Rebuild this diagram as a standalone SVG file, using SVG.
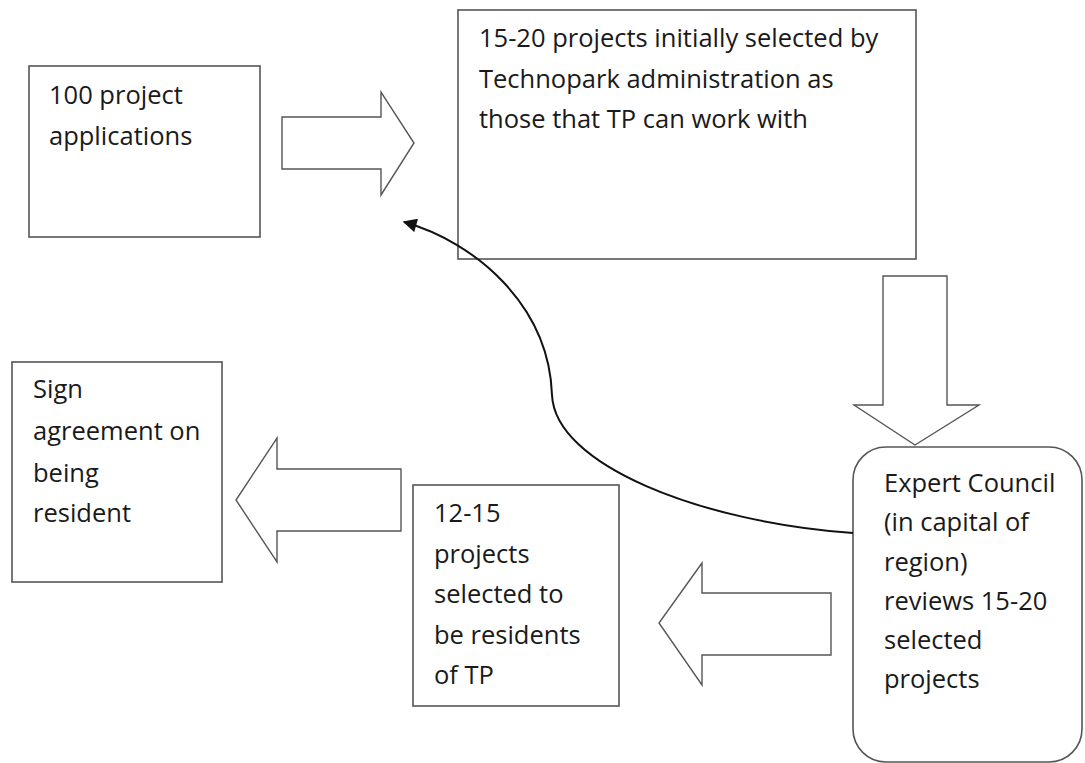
<svg xmlns="http://www.w3.org/2000/svg" width="1085" height="763" viewBox="0 0 1085 763">
<defs>
<style>
.box{fill:#fff;stroke:#555;stroke-width:1.6}
.arr{fill:#fff;stroke:#555;stroke-width:1.4;stroke-linejoin:miter}
.t{font-family:"Open Sans","Liberation Sans",sans-serif;font-size:25.5px;fill:#1a1a1a}
.conn{fill:none;stroke:#111;stroke-width:2}
</style>
<marker id="ah" viewBox="0 0 10 10" refX="9" refY="5" markerWidth="8" markerHeight="7" orient="auto" markerUnits="strokeWidth">
<path d="M0,0 L10,5 L0,10 z" fill="#111"/>
</marker>
</defs>
<rect width="1085" height="763" fill="#fff"/>
<g id="node-applications">
<rect class="box" x="29" y="66" width="231" height="171"/>
<text class="t" x="49" y="104">100 project</text>
<text class="t" x="49" y="145">applications</text>
</g>
<g id="node-initial">
<rect class="box" x="458" y="10" width="458" height="249"/>
<text class="t" x="479" y="47">15-20 projects initially selected by</text>
<text class="t" x="479" y="88">Technopark administration as</text>
<text class="t" x="479" y="128">those that TP can work with</text>
</g>
<g id="node-expert">
<rect class="box" x="853" y="447" width="229" height="315" rx="33" ry="33"/>
<text class="t" x="884" y="492">Expert Council</text>
<text class="t" x="884" y="531">(in capital of</text>
<text class="t" x="884" y="571">region)</text>
<text class="t" x="884" y="610">reviews 15-20</text>
<text class="t" x="884" y="649">selected</text>
<text class="t" x="884" y="688">projects</text>
</g>
<g id="node-residents">
<rect class="box" x="413" y="485" width="206" height="221"/>
<text class="t" x="434" y="522">12-15</text>
<text class="t" x="434" y="563">projects</text>
<text class="t" x="434" y="603">selected to</text>
<text class="t" x="434" y="644">be residents</text>
<text class="t" x="434" y="684">of TP</text>
</g>
<g id="node-sign">
<rect class="box" x="12" y="362" width="210" height="220"/>
<text class="t" x="33" y="398">Sign</text>
<text class="t" x="33" y="440">agreement on</text>
<text class="t" x="33" y="482">being</text>
<text class="t" x="33" y="522">resident</text>
</g>
<g id="connectors">
<path class="arr" d="M282,117 H381 V92 L414,143 L381,195 V169 H282 Z"/>
<path class="arr" d="M883,276 H947 V405 H979 L915,445 L854,405 H883 Z"/>
<path class="arr" d="M831,593 H702 V563 L659,623 L702,685 V655 H831 Z"/>
<path class="arr" d="M401,469 H277 V438 L236,500 L277,562 V531 H401 Z"/>
<path class="conn" marker-end="url(#ah)" d="M853,533 C700,522 555,465 552,395 C549,305 475,242 404,222"/>
</g>
</svg>
